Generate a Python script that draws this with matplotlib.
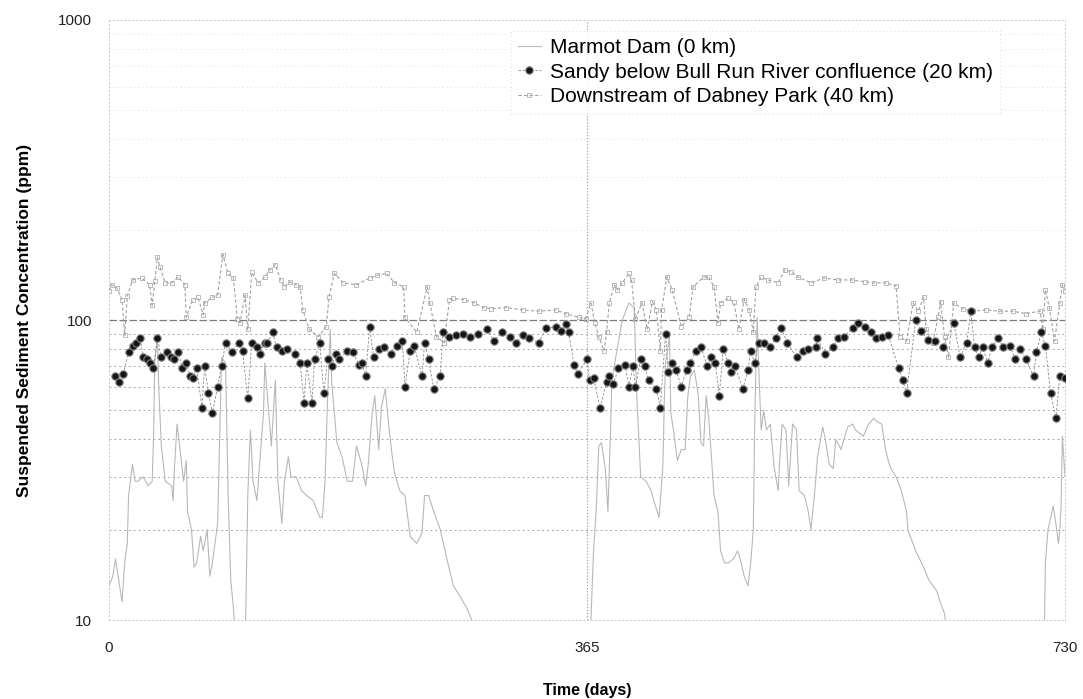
import matplotlib.pyplot as plt
from matplotlib.ticker import FixedLocator, NullFormatter

plt.rcParams["font.family"] = ["Liberation Sans", "DejaVu Sans"]

# Marmot Dam (0 km) - values below 10 run off the bottom of the axis
marmot_days = [0, 3, 5, 7, 10, 12, 14, 15, 18, 20, 22, 26, 30, 33, 34, 35, 37, 38, 40, 43,
               48, 49, 50, 52, 54, 57, 59, 60, 63, 65, 67, 70, 72, 75, 77, 79, 83, 85, 86, 89,
               91, 93, 95, 97, 104, 106, 108, 110, 113, 115, 118, 119, 121, 124, 127, 129, 132,
               134, 137, 139, 143, 147, 151, 156, 161, 163, 165, 167, 169, 170, 174, 178, 182,
               186, 189, 193, 196, 198, 201, 203, 206, 208, 211, 214, 216, 218, 222, 226, 230,
               235, 239, 241, 244, 248, 253, 258, 263, 268, 273, 277, 280, 366, 368, 370, 372,
               374, 376, 379, 381, 383, 384, 388, 392, 397, 401, 403, 406, 410, 414, 416, 420,
               421, 423, 424, 425, 428, 429, 431, 434, 437, 440, 442, 444, 447, 450, 452, 454,
               456, 458, 461, 462, 465, 467, 470, 473, 477, 480, 482, 485, 488, 490, 492, 493,
               494, 495, 496, 498, 500, 502, 505, 508, 511, 512, 514, 517, 519, 522, 525, 527,
               531, 534, 536, 539, 541, 545, 547, 550, 553, 555, 559, 564, 568, 570, 576, 580,
               584, 586, 590, 593, 595, 597, 601, 605, 609, 610, 616, 622, 626, 632, 635, 638,
               641, 714, 715, 717, 721, 723, 725, 726, 727, 728, 730]
marmot_ppm = [13, 14, 16, 14, 11.5, 15.5, 18, 26, 33, 29, 29, 30, 28, 29, 40, 72, 88, 60,
              38, 29, 28, 25, 32, 45, 38, 29, 34, 23, 20, 15, 15.5, 19, 17, 20, 14, 15.5, 21, 49,
              75, 72, 26, 13.6, 11, 8, 8, 26, 43, 29, 25, 33, 49, 72, 56, 38, 63, 29, 21, 29,
              35, 30, 30, 27, 26, 25, 22, 22, 29, 56, 93, 63, 39, 35, 29, 29, 38, 33, 28, 33, 49,
              56, 37, 51, 59, 43, 36, 31, 27, 26, 19, 18, 19.5, 26, 26, 23, 20, 16, 13, 12, 11,
              10, 8, 8, 10, 17, 23, 38, 39, 32, 23, 43, 63, 80, 100, 114, 110, 56, 30, 29, 27,
              25, 22, 25, 33, 53, 72, 88, 49, 43, 34, 37, 37, 56, 65, 68, 56, 39, 38, 56, 47, 30,
              26, 23, 17, 15.5, 15.5, 16, 17, 16, 14, 13, 15.5, 20, 43, 72, 102, 72, 43, 50, 43,
              45, 32, 27, 33, 45, 43, 28, 45, 43, 27, 26, 23, 20, 27, 35, 44, 40, 33, 32, 40, 37,
              44, 45, 43, 41, 45, 47, 46, 45, 37, 34, 32, 30, 27, 23, 20, 17, 15, 13.6, 12.5,
              11.4, 10.5, 8, 8, 15.5, 20, 24, 21, 18, 20, 24, 41, 30]

# Sandy below Bull Run River confluence (20 km)
sandy_days = [5, 8, 11, 15, 18, 21, 24, 26, 29, 31, 34, 37, 40, 44, 47, 50, 53, 56, 59, 62,
              64, 67, 71, 73, 76, 79, 83, 86, 89, 94, 99, 102, 106, 109, 113, 115, 119, 121,
              125, 128, 132, 136, 142, 146, 149, 151, 155, 157, 161, 164, 167, 170, 173, 176,
              182, 186, 191, 193, 196, 199, 202, 206, 210, 215, 220, 224, 226, 230, 233, 239,
              241, 244, 248, 253, 255, 260, 265, 270, 276, 282, 289, 294, 300, 306, 311, 316,
              321, 328, 334, 341, 345, 349, 351, 355, 358, 365, 367, 370, 375, 380, 382, 385,
              389, 394, 397, 400, 402, 406, 409, 412, 418, 421, 425, 427, 430, 433, 437, 441,
              444, 448, 452, 457, 460, 463, 466, 469, 473, 475, 478, 484, 488, 490, 493, 496,
              500, 505, 509, 513, 518, 525, 530, 534, 540, 541, 547, 553, 557, 561, 568, 572,
              577, 582, 586, 590, 595, 603, 606, 609, 616, 620, 625, 631, 637, 645, 650, 655,
              658, 661, 664, 667, 671, 674, 679, 683, 688, 692, 696, 700, 706, 708, 712, 715,
              719, 723, 726, 730]
sandy_ppm = [65, 62, 66, 78, 82, 84, 87, 75, 74, 72, 69, 87, 75, 78, 75, 74, 78, 69, 72, 65,
             64, 69, 51, 70, 57, 49, 60, 70, 84, 78, 84, 79, 55, 84, 81, 77, 84, 84, 91, 81,
             79, 80, 77, 72, 53, 72, 53, 74, 84, 57, 74, 70, 77, 74, 79, 78, 71, 72, 65, 95,
             75, 80, 81, 77, 82, 85, 60, 79, 82, 65, 84, 74, 59, 65, 91, 88, 89, 90, 88, 90,
             93, 85, 91, 88, 84, 89, 87, 84, 94, 95, 92, 97, 91, 71, 66, 74, 63, 64, 51, 62,
             65, 61, 69, 71, 60, 70, 60, 74, 70, 63, 59, 51, 90, 67, 72, 68, 60, 68, 72, 79,
             81, 70, 75, 72, 56, 80, 72, 67, 70, 59, 68, 79, 72, 84, 84, 81, 87, 94, 84, 75,
             79, 80, 81, 87, 77, 81, 87, 88, 94, 98, 95, 91, 87, 88, 89, 69, 63, 57, 100, 92,
             86, 85, 81, 98, 75, 84, 107, 81, 75, 81, 72, 81, 87, 81, 82, 74, 80, 74, 65, 78,
             91, 82, 57, 47, 65, 64]

# Downstream of Dabney Park (40 km)
dabney_days = [0, 2, 6, 10, 12, 14, 18, 25, 31, 33, 35, 37, 39, 43, 48, 53, 58, 59, 64, 68,
               72, 73, 79, 83, 87, 91, 95, 98, 100, 104, 106, 109, 114, 119, 123, 127, 131,
               134, 138, 143, 146, 148, 153, 160, 166, 168, 172, 179, 189, 199, 205, 212, 218,
               225, 226, 235, 243, 245, 250, 256, 260, 263, 271, 279, 286, 292, 303, 316, 328,
               341, 349, 359, 364, 368, 371, 374, 378, 380, 382, 386, 388, 392, 397, 399, 402,
               407, 411, 415, 418, 421, 422, 426, 430, 437, 443, 446, 454, 458, 462, 465, 467,
               473, 477, 481, 485, 489, 492, 494, 498, 503, 511, 516, 521, 526, 536, 546, 557,
               567, 577, 584, 593, 601, 604, 609, 614, 618, 622, 624, 629, 633, 635, 638, 641,
               645, 652, 660, 670, 680, 690, 700, 711, 713, 715, 718, 722, 726, 728, 730]
dabney_ppm = [125, 131, 128, 117, 89, 120, 136, 138, 131, 112, 135, 162, 150, 133, 133, 139,
              131, 102, 117, 119, 104, 114, 119, 121, 165, 143, 138, 101, 98, 121, 93, 144,
              133, 139, 147, 153, 136, 129, 134, 131, 129, 108, 93, 88, 95, 119, 143, 133, 131,
              138, 141, 143, 133, 129, 102, 91, 129, 114, 88, 84, 117, 118, 117, 114, 110, 109,
              110, 108, 107, 108, 105, 102, 101, 114, 98, 88, 79, 91, 114, 131, 126, 133, 143,
              136, 101, 114, 93, 115, 108, 79, 108, 139, 126, 95, 102, 129, 139, 139, 129, 98,
              114, 118, 115, 93, 117, 108, 91, 129, 139, 136, 133, 147, 145, 139, 133, 138,
              136, 136, 134, 133, 133, 130, 88, 85, 114, 107, 119, 93, 84, 102, 115, 88, 75,
              114, 109, 107, 108, 107, 107, 105, 107, 93, 126, 110, 85, 114, 131, 125]

low_grid = [20, 30, 40, 50, 60, 70, 80, 90]
high_grid = [200, 300, 400, 500, 600, 700, 800, 900]

fig = plt.figure(figsize=(10.83, 6.99), dpi=100)
ax = fig.add_axes([0.1006, 0.113, 0.8828, 0.8584])

ax.plot(marmot_days, marmot_ppm, color="#b8b8b8", lw=0.8,
        label="Marmot Dam (0 km)", zorder=2)
ax.plot(dabney_days, dabney_ppm, color="#a0a0a0", lw=0.8, ls=(0, (3, 2)),
        marker="s", ms=2.5, mfc="none", mec="#b0b0b0", mew=0.6,
        label="Downstream of Dabney Park (40 km)", zorder=3)
ax.plot(sandy_days, sandy_ppm, color="#8a8a8a", lw=0.6, ls=(0, (3, 2)),
        marker="o", ms=5.3, mfc="#151515", mec="#808080", mew=0.8,
        label="Sandy below Bull Run River confluence (20 km)", zorder=4)

ax.set_yscale("log")
ax.set_ylim(10, 1000)
ax.set_xlim(0, 730)
ax.set_xticks([0, 365, 730])
ax.set_yticks([10, 100, 1000])
ax.set_yticklabels(["10", "100", "1000"])
ax.yaxis.set_minor_locator(FixedLocator(low_grid + high_grid))
ax.yaxis.set_minor_formatter(NullFormatter())
ax.tick_params(axis="both", which="both", length=0, labelsize=11, colors="#222222")
ax.tick_params(axis="x", pad=15)
ax.tick_params(axis="y", pad=12)

for v in low_grid:
    ax.axhline(v, color="#a8a8a8", lw=0.7, ls=(0, (2, 3)), zorder=1)
for v in high_grid:
    ax.axhline(v, color="#d4d4d4", lw=0.6, ls=(0, (1, 4)), zorder=1)
ax.axhline(100, color="#7a7a7a", lw=0.9, ls=(0, (6, 2)), zorder=1)
ax.axvline(365, color="#a0a0a0", lw=0.9, ls=(0, (1, 1.5)), zorder=1)

for side in ["top", "right", "left", "bottom"]:
    ax.spines[side].set_color("#c4c4c4")
    ax.spines[side].set_linestyle((0, (1, 3)))
    ax.spines[side].set_linewidth(0.7)

ax.set_xlabel("Time (days)", fontsize=11.5, fontweight="bold", labelpad=20)
ax.set_ylabel("Suspended Sediment Concentration (ppm)", fontsize=12.5,
              fontweight="bold", labelpad=19)

handles, labels = ax.get_legend_handles_labels()
order = [0, 2, 1]
leg = ax.legend([handles[i] for i in order], [labels[i] for i in order],
                loc="upper left", bbox_to_anchor=(0.42, 0.982), fontsize=15,
                frameon=True, fancybox=False, handlelength=1.1, handletextpad=0.45,
                borderpad=0.35, labelspacing=0.27, borderaxespad=0)
leg.get_frame().set_edgecolor("#d0d0d0")
leg.get_frame().set_linestyle((0, (1, 3)))
leg.get_frame().set_linewidth(0.7)

fig.savefig("out.png", dpi=100)
